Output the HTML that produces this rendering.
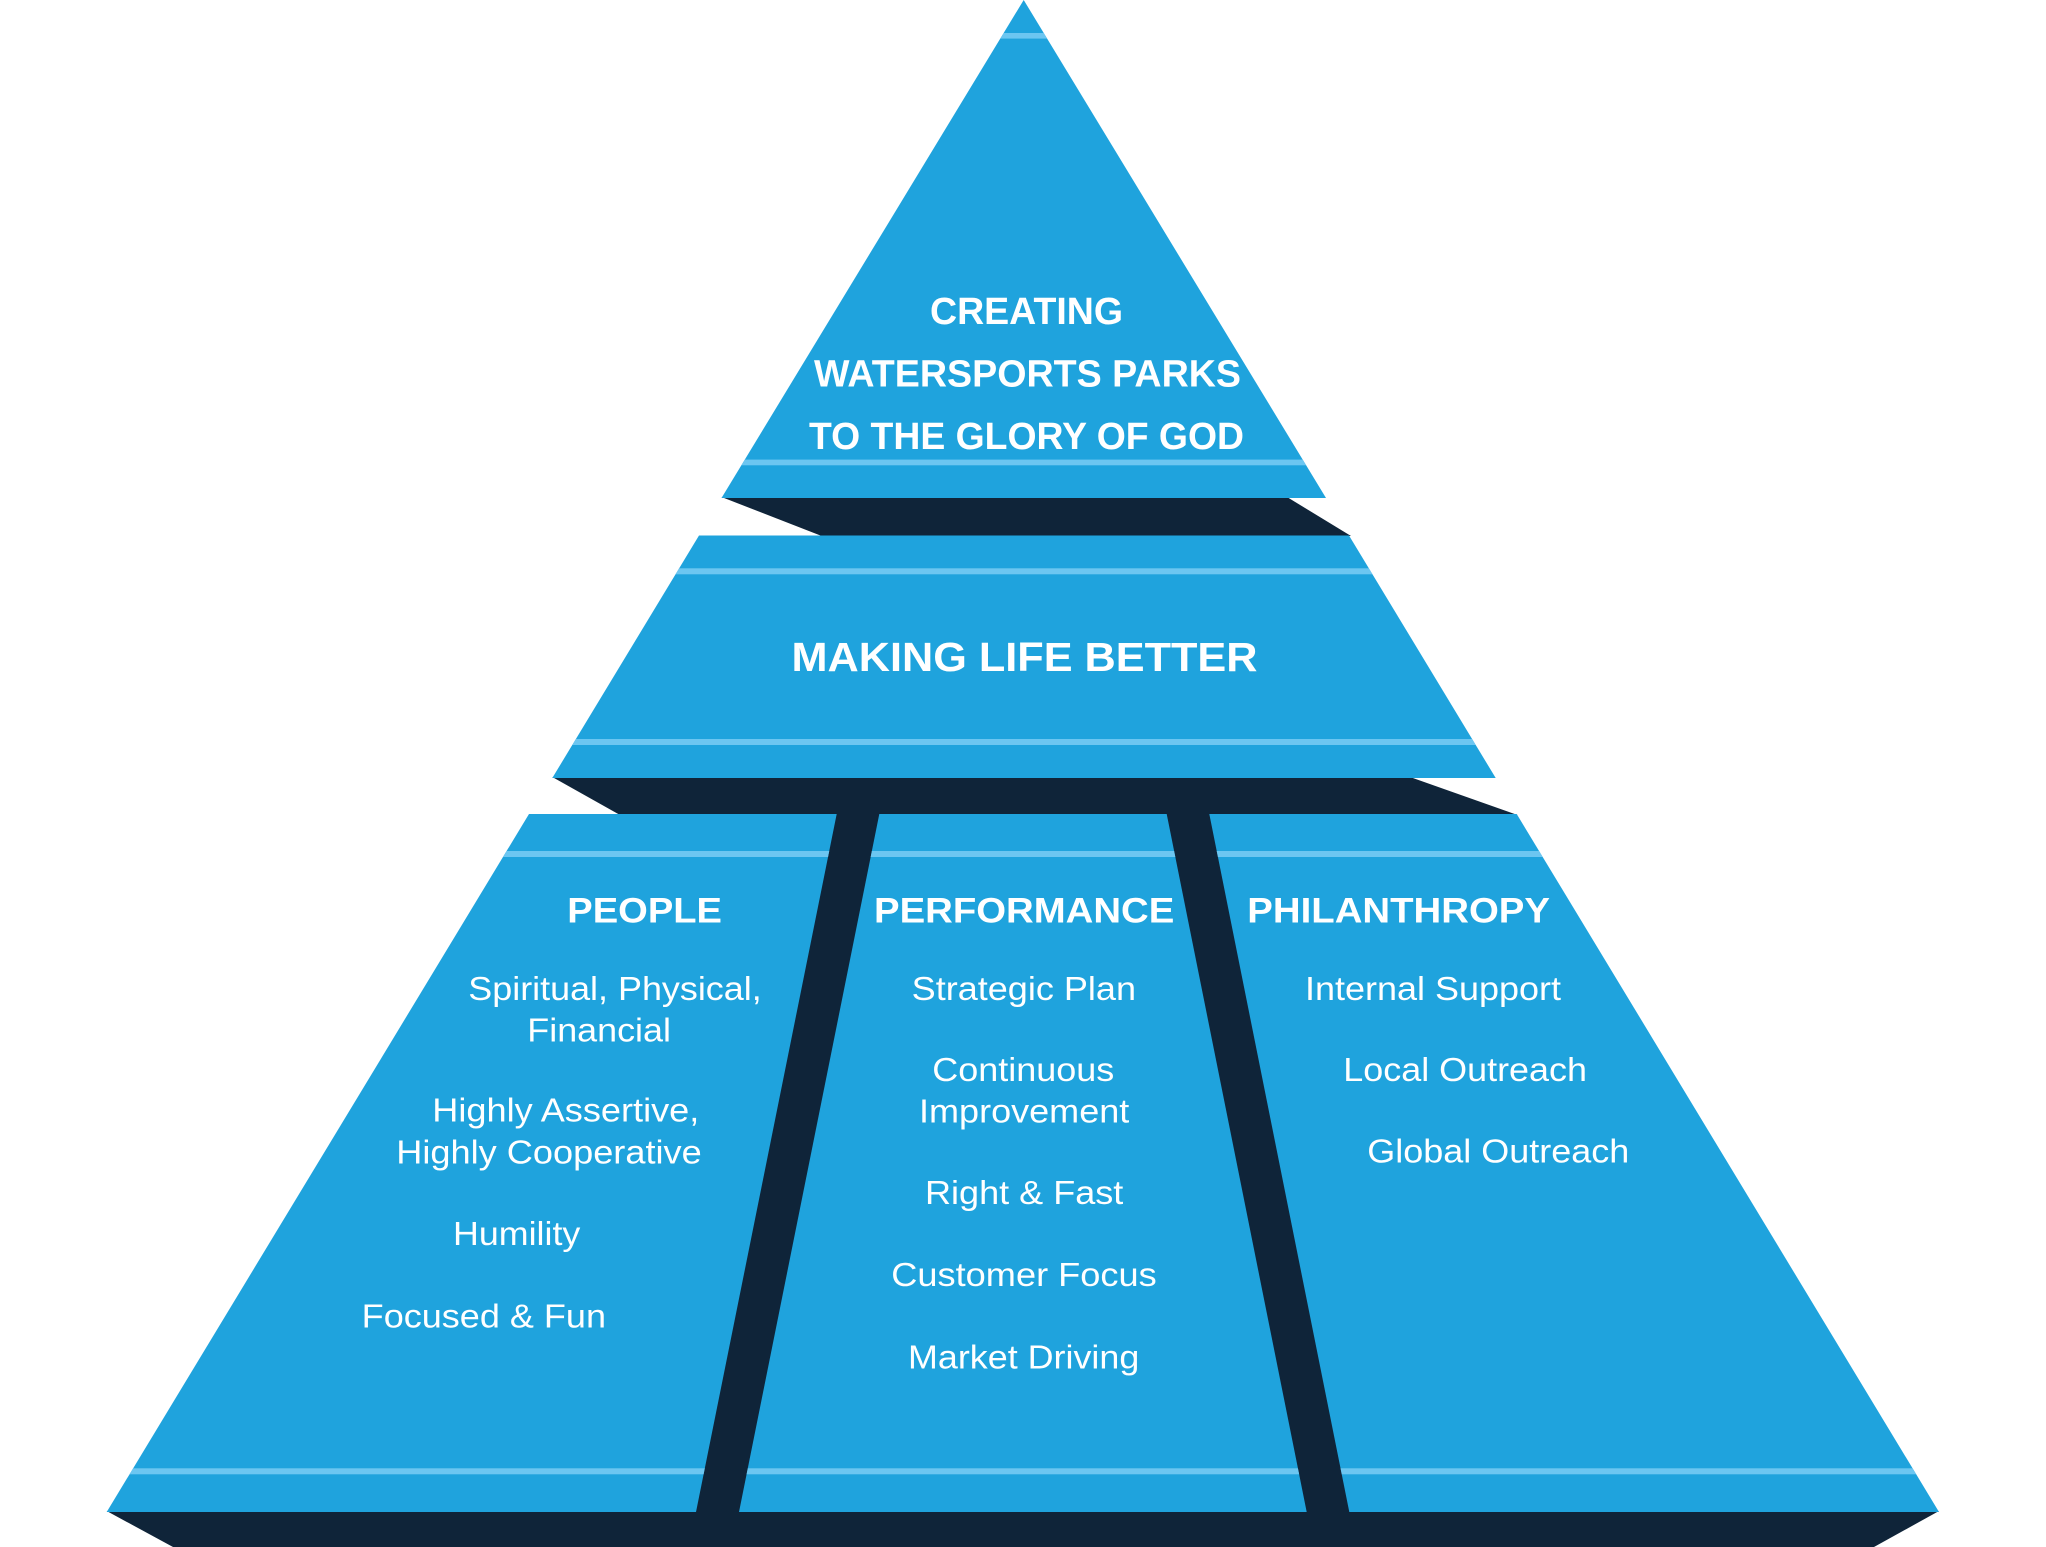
<!DOCTYPE html>
<html>
<head>
<meta charset="utf-8">
<style>
  html, body { margin: 0; padding: 0; background: #ffffff; }
  body { width: 2046px; height: 1547px; overflow: hidden; }
  svg { display: block; }
  .b { font-family: "Liberation Sans", Arial, sans-serif; font-weight: bold; fill: #ffffff; }
  .r { font-family: "Liberation Sans", Arial, sans-serif; font-weight: normal; fill: #ffffff; }
</style>
</head>
<body>
<svg width="2046" height="1547" viewBox="0 0 2046 1547" xmlns="http://www.w3.org/2000/svg">
  <defs>
    <clipPath id="cTop"><polygon points="1023.7,0 1326,498 721.5,498"/></clipPath>
    <clipPath id="cMid"><polygon points="699,535.5 1349,535.5 1495.7,778 552.3,778"/></clipPath>
    <clipPath id="cL"><polygon points="529,814 836.7,814 696,1512 106.7,1512"/></clipPath>
    <clipPath id="cC"><polygon points="879.3,814 1166.7,814 1306.7,1512 739,1512"/></clipPath>
    <clipPath id="cR"><polygon points="1209.3,814 1516.7,814 1939,1512 1349.3,1512"/></clipPath>
  </defs>

  <!-- dark bands / dividers -->
  <g fill="#0f2439">
    <polygon points="721.5,497 1287,497 1351,536 821.7,536"/>
    <polygon points="552.3,777 1410,777 1517.5,815 620,815"/>
    <polygon points="835.7,813 880.3,813 740,1513 695,1513"/>
    <polygon points="1165.7,813 1210.3,813 1350.3,1513 1305.7,1513"/>
    <polygon points="106.7,1511 1939,1511 1874,1547 173,1547"/>
  </g>

  <!-- top triangle -->
  <polygon points="1023.7,0 1326,498 721.5,498" fill="#1fa3dd"/>
  <g clip-path="url(#cTop)" fill="#6cc6f1">
    <rect x="700" y="33" width="650" height="5.6"/>
    <rect x="700" y="459.6" width="650" height="5.7"/>
  </g>

  <!-- middle tier -->
  <polygon points="699,535.5 1349,535.5 1495.7,778 552.3,778" fill="#1fa3dd"/>
  <g clip-path="url(#cMid)" fill="#6cc6f1">
    <rect x="500" y="568.3" width="1050" height="6"/>
    <rect x="500" y="739" width="1050" height="6"/>
  </g>

  <!-- bottom tier panels -->
  <polygon points="529,814 836.7,814 696,1512 106.7,1512" fill="#1fa3dd"/>
  <polygon points="879.3,814 1166.7,814 1306.7,1512 739,1512" fill="#1fa3dd"/>
  <polygon points="1209.3,814 1516.7,814 1939,1512 1349.3,1512" fill="#1fa3dd"/>
  <g fill="#6cc6f1">
    <g clip-path="url(#cL)">
      <rect x="90" y="851" width="800" height="6"/>
      <rect x="90" y="1468.3" width="800" height="6"/>
    </g>
    <g clip-path="url(#cC)">
      <rect x="700" y="851" width="650" height="6"/>
      <rect x="700" y="1468.3" width="650" height="6"/>
    </g>
    <g clip-path="url(#cR)">
      <rect x="1190" y="851" width="800" height="6"/>
      <rect x="1190" y="1468.3" width="800" height="6"/>
    </g>
  </g>

  <!-- top text -->
  <text class="b" font-size="38" x="930" y="323.9" textLength="193" lengthAdjust="spacingAndGlyphs">CREATING</text>
  <text class="b" font-size="38" x="814" y="386.4" textLength="427" lengthAdjust="spacingAndGlyphs">WATERSPORTS PARKS</text>
  <text class="b" font-size="38" x="809" y="448.9" textLength="435" lengthAdjust="spacingAndGlyphs">TO THE GLORY OF GOD</text>

  <!-- middle text -->
  <text class="b" font-size="41" x="791.5" y="671" textLength="466" lengthAdjust="spacingAndGlyphs">MAKING LIFE BETTER</text>

  <!-- headers -->
  <text class="b" font-size="35" x="567.3" y="922.7" textLength="154.7" lengthAdjust="spacingAndGlyphs">PEOPLE</text>
  <text class="b" font-size="35" x="874" y="922.7" textLength="300.3" lengthAdjust="spacingAndGlyphs">PERFORMANCE</text>
  <text class="b" font-size="35" x="1247.3" y="922.7" textLength="302.7" lengthAdjust="spacingAndGlyphs">PHILANTHROPY</text>

  <!-- people items -->
  <text class="r" font-size="33" x="468.3" y="1000" textLength="293.4" lengthAdjust="spacingAndGlyphs">Spiritual, Physical,</text>
  <text class="r" font-size="33" x="527.3" y="1041.7" textLength="143.7" lengthAdjust="spacingAndGlyphs">Financial</text>
  <text class="r" font-size="33" x="432.3" y="1121.7" textLength="267" lengthAdjust="spacingAndGlyphs">Highly Assertive,</text>
  <text class="r" font-size="33" x="396.3" y="1163.3" textLength="305.4" lengthAdjust="spacingAndGlyphs">Highly Cooperative</text>
  <text class="r" font-size="33" x="453" y="1245" textLength="127.3" lengthAdjust="spacingAndGlyphs">Humility</text>
  <text class="r" font-size="33" x="361.7" y="1327.3" textLength="244.3" lengthAdjust="spacingAndGlyphs">Focused &amp; Fun</text>

  <!-- performance items -->
  <text class="r" font-size="33" x="911.7" y="1000" textLength="224.3" lengthAdjust="spacingAndGlyphs">Strategic Plan</text>
  <text class="r" font-size="33" x="932.3" y="1081" textLength="182" lengthAdjust="spacingAndGlyphs">Continuous</text>
  <text class="r" font-size="33" x="919" y="1122.3" textLength="210.3" lengthAdjust="spacingAndGlyphs">Improvement</text>
  <text class="r" font-size="33" x="925" y="1204" textLength="198.3" lengthAdjust="spacingAndGlyphs">Right &amp; Fast</text>
  <text class="r" font-size="33" x="891.3" y="1286" textLength="265.4" lengthAdjust="spacingAndGlyphs">Customer Focus</text>
  <text class="r" font-size="33" x="908" y="1368.3" textLength="231.3" lengthAdjust="spacingAndGlyphs">Market Driving</text>

  <!-- philanthropy items -->
  <text class="r" font-size="33" x="1305" y="1000" textLength="256" lengthAdjust="spacingAndGlyphs">Internal Support</text>
  <text class="r" font-size="33" x="1343.3" y="1081" textLength="243.7" lengthAdjust="spacingAndGlyphs">Local Outreach</text>
  <text class="r" font-size="33" x="1367.3" y="1162.7" textLength="262" lengthAdjust="spacingAndGlyphs">Global Outreach</text>
</svg>
</body>
</html>
